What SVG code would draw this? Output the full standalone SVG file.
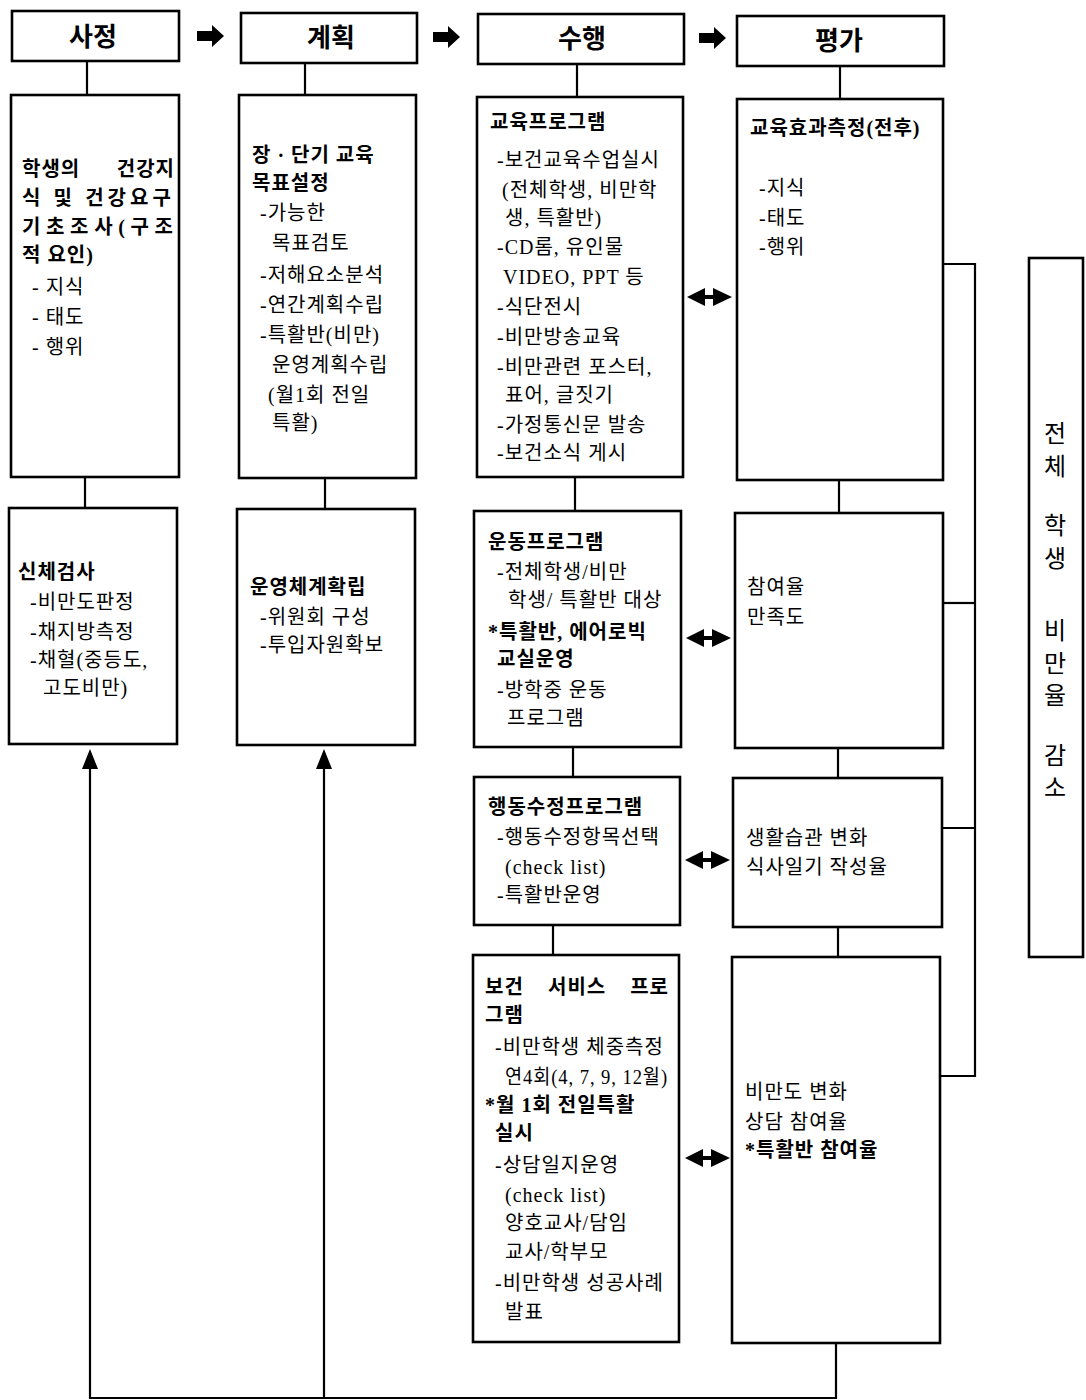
<svg xmlns="http://www.w3.org/2000/svg" width="1086" height="1400" viewBox="0 0 1086 1400">
<style>
.box{fill:#fff;stroke:#000;stroke-width:2.6}
.ln{fill:none;stroke:#000;stroke-width:2.2}
.t{font-family:"Liberation Serif","Noto Sans CJK KR",serif;font-size:20px;letter-spacing:1px;fill:#000}
.b{font-weight:bold}
.e{text-anchor:end}
.h{font-family:"Noto Sans CJK KR",sans-serif;font-size:26px;font-weight:bold;text-anchor:middle;fill:#000}
.v{font-family:"Noto Sans CJK KR",sans-serif;font-size:24px;text-anchor:middle;fill:#000}
.ar{fill:#000}
</style>
<defs>
<path id="dbl" d="M0,0 L18,-9 L18,-2 L26,-2 L26,-9 L45,0 L26,9 L26,2 L18,2 L18,9 Z"/>
<path id="rt" d="M0,-5 L15,-5 L15,-11 L27,0 L15,11 L15,5 L0,5 Z"/>
</defs>

<g id="connectors">
<line class="ln" x1="87" y1="61" x2="87" y2="95"/>
<line class="ln" x1="305" y1="63" x2="305" y2="95"/>
<line class="ln" x1="577" y1="64" x2="577" y2="97"/>
<line class="ln" x1="840" y1="66" x2="840" y2="99"/>
<line class="ln" x1="85" y1="477" x2="85" y2="508"/>
<line class="ln" x1="325" y1="478" x2="325" y2="509"/>
<line class="ln" x1="575" y1="477" x2="575" y2="511"/>
<line class="ln" x1="839" y1="480" x2="839" y2="513"/>
<line class="ln" x1="573" y1="747" x2="573" y2="777"/>
<line class="ln" x1="838" y1="748" x2="838" y2="778"/>
<line class="ln" x1="553" y1="925" x2="553" y2="955"/>
<line class="ln" x1="838" y1="927" x2="838" y2="957"/>
<polyline class="ln" points="943,264 975,264 975,1076 940,1076"/>
<line class="ln" x1="943" y1="603" x2="975" y2="603"/>
<line class="ln" x1="942" y1="828" x2="975" y2="828"/>
<polyline class="ln" points="836,1343 836,1398 90,1398 90,768"/>
<line class="ln" x1="324" y1="1398" x2="324" y2="768"/>
<polygon class="ar" points="90,749 82,769 98,769"/>
<polygon class="ar" points="324,749 316,769 332,769"/>
<use href="#rt" x="197" y="36"/>
<use href="#rt" x="433" y="37"/>
<use href="#rt" x="699" y="38"/>
<use href="#dbl" x="687" y="297"/>
<use href="#dbl" x="686" y="638"/>
<use href="#dbl" x="685" y="860"/>
<use href="#dbl" x="685" y="1158"/>
</g>

<g id="h-sajeong"><rect class="box" x="12" y="11" width="167" height="50"/><text class="h" x="93" y="46">사정</text></g>
<g id="h-gyehoek"><rect class="box" x="241" y="13" width="176" height="50"/><text class="h" x="331" y="47">계획</text></g>
<g id="h-suhaeng"><rect class="box" x="478" y="14" width="206" height="50"/><text class="h" x="582" y="48">수행</text></g>
<g id="h-pyeongga"><rect class="box" x="737" y="16" width="207" height="50"/><text class="h" x="839" y="50">평가</text></g>

<g id="n-survey">
<rect class="box" x="11" y="95" width="168" height="382"/>
<text class="t b" x="22" y="176">학생의</text>
<text class="t b e" x="175" y="176">건강지</text>
<text class="t b" x="22" y="205" textLength="150" lengthAdjust="spacing">식 및 건강요구</text>
<text class="t b" x="22" y="234" textLength="152" lengthAdjust="spacing">기초조사(구조</text>
<text class="t b" x="22" y="262">적 요인)</text>
<text class="t" x="32" y="294">-  지식</text>
<text class="t" x="32" y="324">-  태도</text>
<text class="t" x="32" y="354">-  행위</text>
</g>

<g id="n-physical">
<rect class="box" x="9" y="508" width="168" height="236"/>
<text class="t b" x="18" y="579">신체검사</text>
<text class="t" x="30" y="609">-비만도판정</text>
<text class="t" x="30" y="639">-채지방측정</text>
<text class="t" x="30" y="667">-채혈(중등도,</text>
<text class="t" x="43" y="695">고도비만)</text>
</g>

<g id="n-goal">
<rect class="box" x="239" y="95" width="177" height="383"/>
<text class="t b" x="252" y="162">장 · 단기 교육</text>
<text class="t b" x="252" y="190">목표설정</text>
<text class="t" x="260" y="220">-가능한</text>
<text class="t" x="272" y="250">목표검토</text>
<text class="t" x="260" y="282">-저해요소분석</text>
<text class="t" x="260" y="312">-연간계획수립</text>
<text class="t" x="260" y="342">-특활반(비만)</text>
<text class="t" x="272" y="372">운영계획수립</text>
<text class="t" x="268" y="402">(월1회 전일</text>
<text class="t" x="272" y="430">특활)</text>
</g>

<g id="n-system">
<rect class="box" x="237" y="509" width="178" height="236"/>
<text class="t b" x="250" y="594">운영체계확립</text>
<text class="t" x="260" y="624">-위원회 구성</text>
<text class="t" x="260" y="652">-투입자원확보</text>
</g>

<g id="n-edu">
<rect class="box" x="477" y="97" width="206" height="380"/>
<text class="t b" x="490" y="129">교육프로그램</text>
<text class="t" x="497" y="167">-보건교육수업실시</text>
<text class="t" x="502" y="197">(전체학생, 비만학</text>
<text class="t" x="505" y="225">생, 특활반)</text>
<text class="t" x="497" y="254">-CD롬, 유인물</text>
<text class="t" x="503" y="284">VIDEO, PPT 등</text>
<text class="t" x="497" y="314">-식단전시</text>
<text class="t" x="497" y="344">-비만방송교육</text>
<text class="t" x="497" y="374">-비만관련 포스터,</text>
<text class="t" x="505" y="402">표어, 글짓기</text>
<text class="t" x="497" y="432">-가정통신문 발송</text>
<text class="t" x="497" y="460">-보건소식 게시</text>
</g>

<g id="n-edu-eval">
<rect class="box" x="737" y="99" width="206" height="381"/>
<text class="t b" x="750" y="135">교육효과측정(전후)</text>
<text class="t" x="759" y="195">-지식</text>
<text class="t" x="759" y="225">-태도</text>
<text class="t" x="759" y="254">-행위</text>
</g>

<g id="n-exercise">
<rect class="box" x="474" y="511" width="207" height="236"/>
<text class="t b" x="488" y="549">운동프로그램</text>
<text class="t" x="497" y="579">-전체학생/비만</text>
<text class="t" x="508" y="607">학생/ 특활반 대상</text>
<text class="t b" x="488" y="639">*특활반, 에어로빅</text>
<text class="t b" x="497" y="666">교실운영</text>
<text class="t" x="497" y="697">-방학중 운동</text>
<text class="t" x="507" y="725">프로그램</text>
</g>

<g id="n-exercise-eval">
<rect class="box" x="735" y="513" width="208" height="235"/>
<text class="t" x="747" y="594">참여율</text>
<text class="t" x="747" y="624">만족도</text>
</g>

<g id="n-behavior">
<rect class="box" x="474" y="777" width="206" height="148"/>
<text class="t b" x="488" y="814">행동수정프로그램</text>
<text class="t" x="497" y="844">-행동수정항목선택</text>
<text class="t" x="505" y="874">(check list)</text>
<text class="t" x="497" y="902">-특활반운영</text>
</g>

<g id="n-behavior-eval">
<rect class="box" x="733" y="778" width="209" height="149"/>
<text class="t" x="746" y="845">생활습관 변화</text>
<text class="t" x="746" y="874">식사일기 작성율</text>
</g>

<g id="n-service">
<rect class="box" x="473" y="955" width="206" height="387"/>
<text class="t b" x="485" y="994">보건</text>
<text class="t b" x="548" y="994">서비스</text>
<text class="t b e" x="669" y="994">프로</text>
<text class="t b" x="485" y="1022">그램</text>
<text class="t" x="495" y="1054">-비만학생 체중측정</text>
<text class="t" x="505" y="1084" textLength="163" lengthAdjust="spacingAndGlyphs">연4회(4, 7, 9, 12월)</text>
<text class="t b" x="485" y="1112">*월 1회 전일특활</text>
<text class="t b" x="495" y="1140">실시</text>
<text class="t" x="495" y="1172">-상담일지운영</text>
<text class="t" x="505" y="1202">(check list)</text>
<text class="t" x="505" y="1230">양호교사/담임</text>
<text class="t" x="505" y="1259">교사/학부모</text>
<text class="t" x="495" y="1290">-비만학생 성공사례</text>
<text class="t" x="505" y="1319">발표</text>
</g>

<g id="n-service-eval">
<rect class="box" x="732" y="957" width="208" height="386"/>
<text class="t" x="745" y="1099">비만도 변화</text>
<text class="t" x="745" y="1129">상담 참여율</text>
<text class="t b" x="745" y="1157">*특활반 참여율</text>
</g>

<g id="n-goal-final">
<rect class="box" x="1029" y="258" width="54" height="699"/>
<text class="v" x="1055" y="442">전</text>
<text class="v" x="1055" y="475">체</text>
<text class="v" x="1055" y="534">학</text>
<text class="v" x="1055" y="567">생</text>
<text class="v" x="1055" y="639">비</text>
<text class="v" x="1055" y="672">만</text>
<text class="v" x="1055" y="704">율</text>
<text class="v" x="1055" y="764">감</text>
<text class="v" x="1055" y="796">소</text>
</g>
</svg>
